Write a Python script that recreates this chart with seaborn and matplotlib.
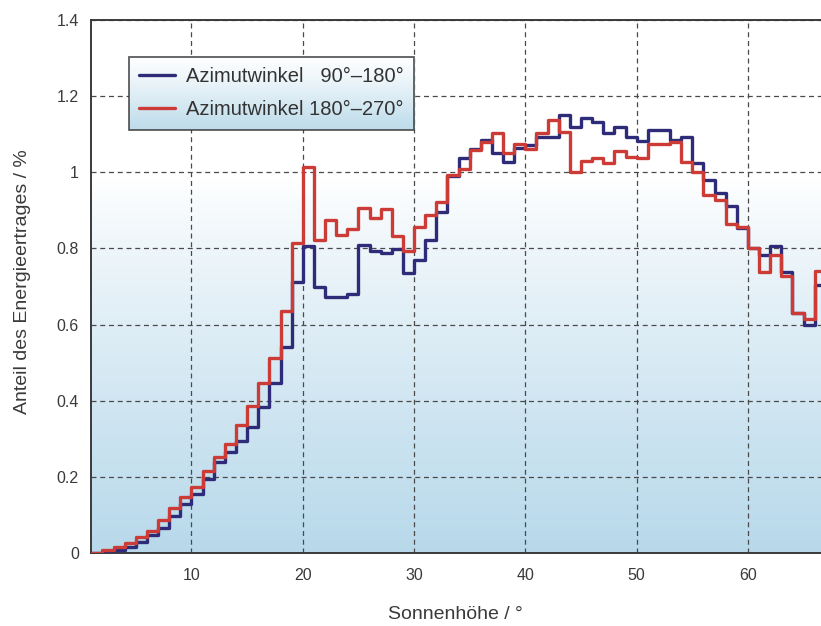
import numpy as np
import pandas as pd
import matplotlib
matplotlib.use("Agg")
import matplotlib.pyplot as plt
import seaborn as sns
from matplotlib.lines import Line2D
from matplotlib.ticker import FuncFormatter

# ======================================
# DATEN (1°-Klassen, linke Klassenkante)
# ======================================
hoehe = np.arange(1, 67)

anteil_90_180 = [
    0.0, 0.003, 0.009, 0.017, 0.028, 0.047, 0.066, 0.098, 0.128, 0.154,
    0.195, 0.238, 0.265, 0.294, 0.332, 0.384, 0.446, 0.542, 0.713, 0.806,
    0.70, 0.672, 0.672, 0.68, 0.81, 0.792, 0.789, 0.798, 0.736, 0.77,
    0.822, 0.895, 0.99, 1.037, 1.06, 1.085, 1.05, 1.028, 1.065, 1.072,
    1.094, 1.094, 1.15, 1.12, 1.142, 1.133, 1.102, 1.12, 1.094, 1.082,
    1.112, 1.112, 1.085, 1.092, 1.025, 0.98, 0.946, 0.911, 0.855, 0.80,
    0.783, 0.806, 0.739, 0.63, 0.599, 0.704,
]

anteil_180_270 = [
    0.0, 0.008, 0.017, 0.025, 0.041, 0.059, 0.088, 0.117, 0.146, 0.173,
    0.216, 0.251, 0.286, 0.335, 0.386, 0.446, 0.513, 0.636, 0.815, 1.013,
    0.822, 0.875, 0.835, 0.85, 0.907, 0.881, 0.904, 0.833, 0.793, 0.857,
    0.888, 0.923, 0.993, 1.01, 1.058, 1.08, 1.102, 1.05, 1.075, 1.062,
    1.103, 1.137, 1.107, 1.002, 1.03, 1.037, 1.024, 1.057, 1.041, 1.038,
    1.074, 1.074, 1.08, 1.028, 1.0, 0.94, 0.927, 0.864, 0.857, 0.80,
    0.739, 0.783, 0.728, 0.63, 0.614, 0.742,
]

reihen = ["Azimutwinkel   90°–180°", "Azimutwinkel 180°–270°"]
farben = ["#2e2c78", "#cc3b35"]

y_ticks = [0, 0.2, 0.4, 0.6, 0.8, 1.0, 1.2, 1.4]
x_ticks = [10, 20, 30, 40, 50, 60]

# ======================================
# LONG FORMAT (Stufen: letzte Kante schliessen)
# ======================================
teile = []
for name, werte in zip(reihen, [anteil_90_180, anteil_180_270]):
    x = np.append(hoehe, hoehe[-1] + 1)
    y = np.append(werte, werte[-1])
    teile.append(pd.DataFrame({"hoehe": x, "anteil": y, "reihe": name}))
df = pd.concat(teile, ignore_index=True)

# ======================================
# GRAFIK
# ======================================
sns.set_theme(style="white")
plt.rcParams["font.family"] = ["Liberation Sans", "DejaVu Sans"]

fig = plt.figure(figsize=(8.21, 6.26), dpi=100)
ax = fig.add_axes([0.1112, 0.1166, 0.9354, 0.8514])

x_min, x_max = 1, 70
y_min, y_max = 0, 1.4

# Hintergrund-Verlauf (weiss oben -> hellblau unten)
v = np.linspace(y_max, y_min, 400)
t = np.clip((0.98 - v) / 0.98, 0, 1) ** 0.85
weiss = np.array([1.0, 1.0, 1.0])
blau = np.array([0.72, 0.85, 0.92])
bild = (weiss[None, :] * (1 - t[:, None]) + blau[None, :] * t[:, None])[:, None, :]
ax.imshow(bild, extent=[x_min, x_max, y_min, y_max], aspect="auto",
          interpolation="bilinear", zorder=0)

sns.lineplot(
    data=df, x="hoehe", y="anteil", hue="reihe",
    palette=dict(zip(reihen, farben)),
    drawstyle="steps-post", linewidth=2.4,
    estimator=None, sort=False, legend=False, ax=ax, zorder=3,
)

ax.set_xlim(x_min, x_max)
ax.set_ylim(y_min, y_max)
ax.set_xticks(x_ticks)
ax.set_yticks(y_ticks)
ax.yaxis.set_major_formatter(FuncFormatter(lambda val, pos: f"{val:g}"))

ax.grid(True, linestyle=(0, (4, 3)), color="#4a4a4a", linewidth=0.9)
ax.set_axisbelow(True)
ax.tick_params(axis="both", length=0, labelsize=11.5, colors="#3a3a3a")
ax.tick_params(axis="y", pad=9)
ax.tick_params(axis="x", pad=11)

for s in ax.spines.values():
    s.set_color("#3a3a3a")
    s.set_linewidth(1.4)

ax.set_xlabel("Sonnenhöhe / °", fontsize=14, color="#3a3a3a", va="center")
ax.set_ylabel("Anteil des Energieertrages / %", fontsize=14,
              color="#3a3a3a", va="center")
ax.xaxis.set_label_coords(0.474, -0.116)
ax.yaxis.set_label_coords(-0.090, 0.51)

# ======================================
# LEGENDE mit Verlauf
# ======================================
handles = [Line2D([], [], color=c, linewidth=2.4) for c in farben]
leg = ax.legend(
    handles, reihen, loc="upper left", bbox_to_anchor=(0.049, 0.9306),
    borderaxespad=0, fontsize=14.5, frameon=True, fancybox=False,
    handlelength=1.75, handletextpad=0.55, labelspacing=0.69,
    borderpad=0.52,
)
leg.set_zorder(6)
frame = leg.get_frame()
frame.set_facecolor("none")
frame.set_edgecolor("#333333")
frame.set_linewidth(1.3)
for txt in leg.get_texts():
    txt.set_color("#333333")

fig.canvas.draw()
bb = frame.get_window_extent().transformed(ax.transAxes.inverted())
tl = np.linspace(0, 1, 200) ** 1.1
blau_leg = np.array([0.74, 0.86, 0.92])
bild_leg = (weiss[None, :] * (1 - tl[:, None]) + blau_leg[None, :] * tl[:, None])[:, None, :]
ax.imshow(bild_leg, extent=[bb.x0, bb.x1, bb.y0, bb.y1], transform=ax.transAxes,
          aspect="auto", interpolation="bilinear", zorder=5)
ax.set_xlim(x_min, x_max)
ax.set_ylim(y_min, y_max)

fig.savefig("out.png", dpi=100)
